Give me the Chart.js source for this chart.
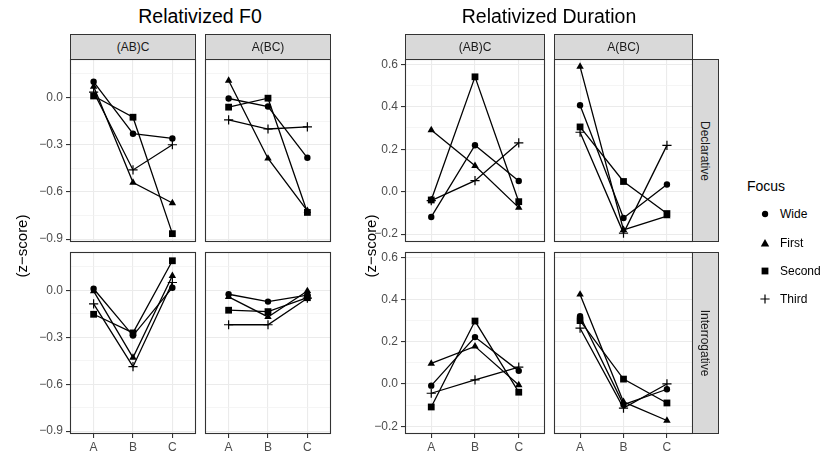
<!DOCTYPE html>
<html>
<head>
<meta charset="utf-8">
<script src="https://cdn.jsdelivr.net/npm/chart.js@4.4.1/dist/chart.umd.min.js"></script>
<style>
body { margin: 0; background: #fff; font-family: "Liberation Sans", Arial, sans-serif; }
#fig { position: relative; width: 827px; height: 454px; overflow: hidden; }
canvas { position: absolute; }
.strip { position: absolute; box-sizing: border-box; background: #D9D9D9; border: 1px solid #333;
         color: #1A1A1A; font-size: 12px; display: flex; align-items: center; justify-content: center; }
.vtext { position: absolute; white-space: nowrap; width: 120px; height: 16px; line-height: 16px;
         text-align: center; transform: rotate(90deg); }
.ytitle { position: absolute; white-space: nowrap; font-size: 15px; font-weight: 400; color: #000;
          width: 100px; height: 20px; line-height: 20px; text-align: center; transform: rotate(-90deg); }
.title { position: absolute; top: 5px; width: 300px; text-align: center; font-size: 19.5px; font-weight: 400;
         color: #000; white-space: nowrap; }
.legend { position: absolute; left: 747px; top: 178px; }
.legend .head { font-size: 14px; color: #000; margin-bottom: 6px; }
.legend .item { height: 28.4px; display: flex; align-items: center; font-size: 12px; color: #000; }
.legend svg { margin: 0 10px 0 13px; }
</style>
</head>
<body>
<div id="fig"></div>
<script>
// x categories and focus groups
var positions = ["A", "B", "C"];
var focusLevels = ["Wide", "First", "Second", "Third"];
var focusShapes = ["circle", "triangle", "rect", "cross"];

// values per panel: one row per focus level (Wide, First, Second, Third), columns A, B, C
var f0DeclarativeABC    = [[0.10, -0.23, -0.26], [0.07, -0.54, -0.67], [0.01, -0.125, -0.865], [0.035, -0.46, -0.30]];
var f0DeclarativeA_BC   = [[-0.006, -0.057, -0.383], [0.108, -0.387, -0.72], [-0.061, -0.004, -0.73], [-0.142, -0.20, -0.186]];
var f0InterrogativeABC  = [[0.01, -0.289, 0.017], [-0.005, -0.43, 0.093], [-0.153, -0.272, 0.189], [-0.087, -0.488, 0.05]];
var f0InterrogativeA_BC = [[-0.025, -0.072, -0.03], [-0.042, -0.17, -0.004], [-0.127, -0.136, -0.047], [-0.22, -0.22, -0.05]];

var durDeclarativeABC    = [[-0.119, 0.219, 0.05], [0.29, 0.122, -0.075], [-0.039, 0.541, -0.047], [-0.042, 0.052, 0.23]];
var durDeclarativeA_BC   = [[0.407, -0.124, 0.034], [0.589, -0.18, -0.115], [0.305, 0.048, -0.103], [0.28, -0.195, 0.218]];
var durInterrogativeABC  = [[-0.008, 0.222, 0.062], [0.097, 0.178, -0.005], [-0.109, 0.298, -0.039], [-0.044, 0.019, 0.08]];
var durInterrogativeA_BC = [[0.321, -0.098, -0.025], [0.424, -0.085, -0.173], [0.30, 0.023, -0.09], [0.264, -0.114, 0.0]];

// y ticks
var f0Ticks = [-0.9, -0.6, -0.3, 0.0];
var f0TickLabels = ["\u22120.9", "\u22120.6", "\u22120.3", "0.0"];
var f0MinorTicks = [-0.75, -0.45, -0.15, 0.15];
var durTicks = [-0.2, 0.0, 0.2, 0.4, 0.6];
var durTickLabels = ["\u22120.2", "0.0", "0.2", "0.4", "0.6"];
var durMinorTicks = [-0.1, 0.1, 0.3, 0.5];

Chart.defaults.font.family = '"Liberation Sans", Arial, sans-serif';

var fig = document.getElementById('fig');

var panelBorder = {
    id: 'panelBorder',
    afterDraw: function(chart) {
	var a = chart.chartArea, ctx = chart.ctx;
	ctx.save();
	ctx.strokeStyle = '#333333';
	ctx.lineWidth = 1.1;
	ctx.strokeRect(a.left + 0.5, a.top + 0.5, a.right - a.left - 1, a.bottom - a.top - 1);
	ctx.restore();
    }
};

function addDiv(cls, text, css) {
    var d = document.createElement('div');
    d.className = cls;
    d.textContent = text;
    Object.assign(d.style, css);
    fig.appendChild(d);
    return d;
}

function panel(left, top, w, h, series, ticks, labels, minor, yMin, yMax, showY, showX) {
    var cv = document.createElement('canvas');
    cv.width = w + 50; cv.height = h + 30;
    cv.style.left = (left - 45) + 'px';
    cv.style.top = (top - 5) + 'px';
    fig.appendChild(cv);

    var radius = [3.2, 4.3, 4.8, 4.6];
    var datasets = focusLevels.map(function(f, i) {
	return {
	    label: f,
	    data: positions.map(function(p, j) { return {x: j + 1, y: series[i][j]}; }),
	    showLine: true,
	    borderColor: '#000',
	    backgroundColor: '#000',
	    borderWidth: 1.3,
	    pointStyle: focusShapes[i],
	    pointRadius: radius[i],
	    pointBackgroundColor: '#000',
	    pointBorderColor: '#000',
	    pointBorderWidth: i == 3 ? 1.2 : 0
	};
    });

    var yAll = ticks.map(function(v) { return {value: v}; })
	.concat(minor.map(function(v) { return {value: v, minor: true}; }))
	.sort(function(a, b) { return a.value - b.value; });

    return new Chart(cv, {
	type: 'scatter',
	data: {datasets: datasets},
	options: {
	    responsive: false,
	    animation: false,
	    devicePixelRatio: 1,
	    layout: {padding: {top: 5, right: 5, left: 0, bottom: 0}, autoPadding: false},
	    plugins: {legend: {display: false}, tooltip: {enabled: false}},
	    scales: {
		x: {
		    type: 'linear', min: 0.4, max: 3.6,
		    afterBuildTicks: function(ax) { ax.ticks = positions.map(function(p, j) { return {value: j + 1}; }); },
		    afterFit: function(ax) { ax.height = 25; ax.paddingLeft = 0; ax.paddingRight = 0; },
		    border: {display: false},
		    grid: {color: '#EBEBEB', lineWidth: 1.1, drawTicks: showX, tickLength: 4, tickColor: '#333'},
		    ticks: {display: showX, autoSkip: false, maxRotation: 0, padding: 2, color: '#4D4D4D',
			    font: {size: 12},
			    callback: function(v) { return positions[Math.round(v) - 1]; }}
		},
		y: {
		    type: 'linear', min: yMin, max: yMax,
		    afterBuildTicks: function(ax) { ax.ticks = yAll.map(function(t) { return {value: t.value, minor: t.minor}; }); },
		    afterFit: function(ax) { ax.width = 45; ax.paddingTop = 0; ax.paddingBottom = 0; },
		    border: {display: false},
		    grid: {
			color: function(c) { return c.tick && c.tick.minor ? '#F0F0F0' : '#EBEBEB'; },
			lineWidth: function(c) { return c.tick && c.tick.minor ? 0.7 : 1.1; },
			drawTicks: showY, tickLength: 4,
			tickColor: function(c) { return c.tick && c.tick.minor ? 'rgba(0,0,0,0)' : '#333'; }
		    },
		    ticks: {display: showY, autoSkip: false, padding: 3, color: '#4D4D4D', font: {size: 12},
			    callback: function(v) {
				var k = ticks.indexOf(v);
				return k < 0 ? '' : labels[k];
			    }}
		}
	    }
	},
	plugins: [panelBorder]
    });
}

// panel geometry
var rowTop = [59, 252], rowH = [183, 182];
var f0Left = [70, 205], f0W = 126;
var durLeft = [405, 554], durW = [140, 139];

// Relativized F0
var f0Panels = [[f0DeclarativeABC, f0DeclarativeA_BC], [f0InterrogativeABC, f0InterrogativeA_BC]];
for (var r = 0; r < 2; r++)
    for (var c = 0; c < 2; c++)
	panel(f0Left[c], rowTop[r], f0W, rowH[r], f0Panels[r][c], f0Ticks, f0TickLabels, f0MinorTicks,
	      -0.918, 0.245, c == 0, r == 1);

// Relativized Duration
var durPanels = [[durDeclarativeABC, durDeclarativeA_BC], [durInterrogativeABC, durInterrogativeA_BC]];
for (var r = 0; r < 2; r++)
    for (var c = 0; c < 2; c++)
	panel(durLeft[c], rowTop[r], durW[c], rowH[r], durPanels[r][c], durTicks, durTickLabels, durMinorTicks,
	      -0.237, 0.625, c == 0, r == 1);

// strips
var colNames = ["(AB)C", "A(BC)"];
var rowNames = ["Declarative", "Interrogative"];
for (var c = 0; c < 2; c++) {
    addDiv('strip', colNames[c], {left: f0Left[c] + 'px', top: '34px', width: f0W + 'px', height: '26px'});
    addDiv('strip', colNames[c], {left: durLeft[c] + 'px', top: '34px', width: durW[c] + 'px', height: '26px'});
}
for (var r = 0; r < 2; r++) {
    var s = addDiv('strip', '', {left: '692px', top: rowTop[r] + 'px', width: '27px', height: rowH[r] + 'px'});
    var t = document.createElement('div');
    t.className = 'vtext';
    t.textContent = rowNames[r];
    t.style.left = '-48px';
    t.style.top = Math.round(rowH[r] / 2 - 9) + 'px';
    s.style.display = 'block';
    s.appendChild(t);
}

// titles
addDiv('title', 'Relativized F0', {left: '50px'});
addDiv('title', 'Relativized Duration', {left: '399px'});
addDiv('ytitle', '(z\u2212score)', {left: '-28px', top: '236px'});
addDiv('ytitle', '(z\u2212score)', {left: '321px', top: '236px'});

// legend
var shapesSvg = [
    '<circle cx="5" cy="5" r="3.2" fill="#000"/>',
    '<polygon points="5,1 9.2,8.4 0.8,8.4" fill="#000"/>',
    '<rect x="1.6" y="1.6" width="6.8" height="6.8" fill="#000"/>',
    '<path d="M0.4 5 H9.6 M5 0.4 V9.6" stroke="#000" stroke-width="1.2"/>'
];
var lg = document.createElement('div');
lg.className = 'legend';
var html = '<div class="head">Focus</div>';
for (var i = 0; i < focusLevels.length; i++) {
    html += '<div class="item"><svg width="10" height="10">' + shapesSvg[i] + '</svg>' + focusLevels[i] + '</div>';
}
lg.innerHTML = html;
fig.appendChild(lg);
</script>
</body>
</html>
